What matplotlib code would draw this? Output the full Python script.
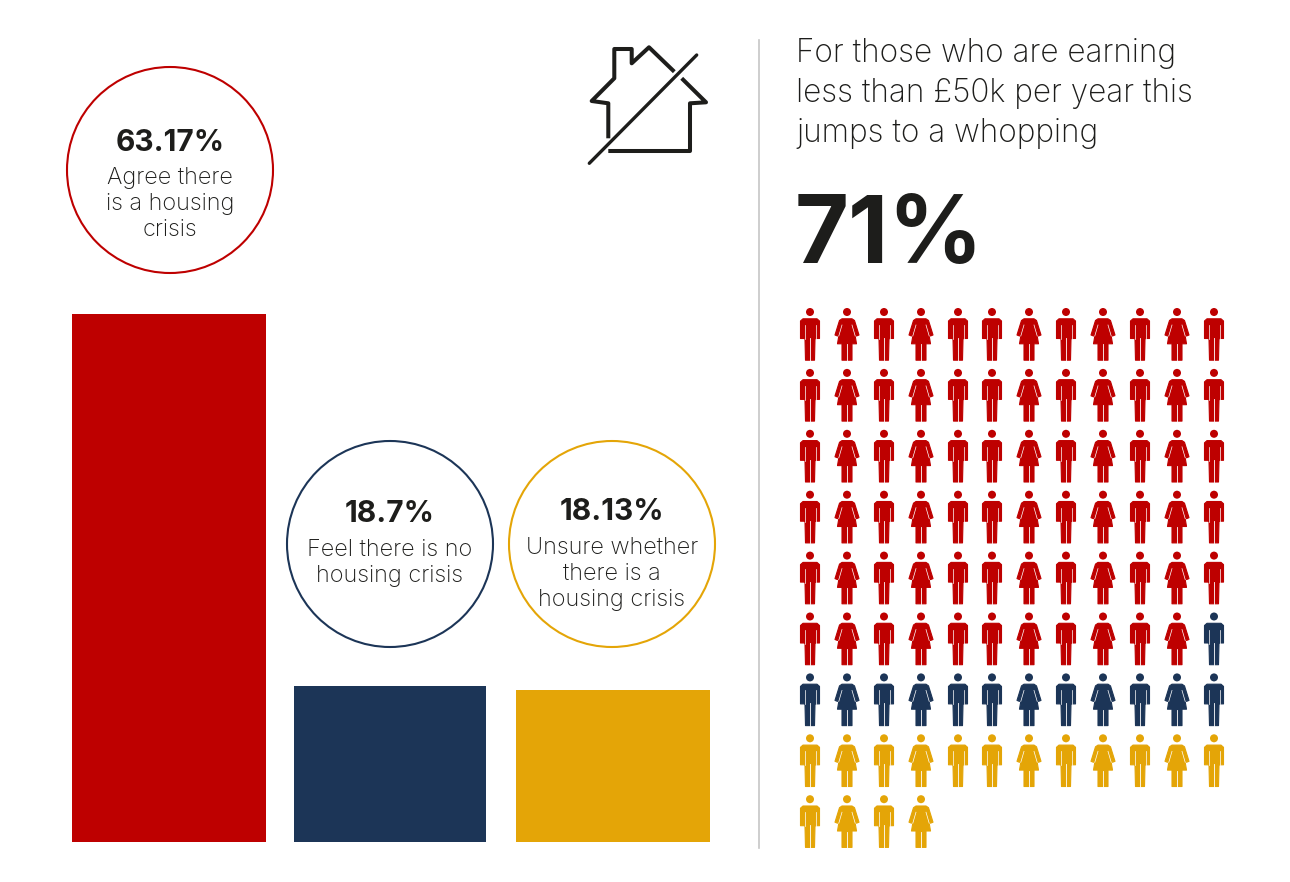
import numpy as np
import matplotlib
matplotlib.use('Agg')
import matplotlib.pyplot as plt
from matplotlib.patches import Circle, Polygon

plt.rcParams['font.family'] = ['Inter', 'DejaVu Sans']

W, H = 1290, 882

# chart values
categories = ['Agree there\nis a housing\ncrisis', 'Feel there is no\nhousing crisis',
              'Unsure whether\nthere is a\nhousing crisis']
values = [63.17, 18.7, 18.13]
value_labels = ['63.17%', '18.7%', '18.13%']
colors = ['#BE0000', '#1C3557', '#E4A507']

people_counts = [71, 13, 16]
per_row = 12
# man / woman order along a row
row_pattern = ['m', 'w', 'm', 'w', 'm', 'm', 'w', 'm', 'w', 'm', 'w', 'm']

headline = 'For those who are earning\nless than £50k per year this\njumps to a whopping'
big_number = '71%'

TEXT = '#1D1D1B'

fig = plt.figure(figsize=(W / 100, H / 100), dpi=100, facecolor='white')

# background axes in pixel coords, y downwards
ax = fig.add_axes([0, 0, 1, 1])
ax.set_xlim(0, W)
ax.set_ylim(H, 0)
ax.axis('off')

# bars, x axis runs in pixels so the gaps stay as drawn
ax_b = fig.add_axes([0, (H - 842) / H, 1, (842 - 314) / H])
ax_b.bar([169, 390, 613], values, width=[194, 192, 194], color=colors)
ax_b.set_xlim(0, W)
ax_b.set_ylim(0, max(values))
ax_b.axis('off')

# circles with labels
centres = [(170, 170), (390, 544), (612, 544)]
value_base = [151, 522, 520]
label_base = [184, 556, 554]
for i, (cx, cy) in enumerate(centres):
    ax.add_patch(Circle((cx, cy), 103, fill=False, ec=colors[i], lw=1.5))
    ax.text(cx, value_base[i], value_labels[i], ha='center', va='baseline', fontsize=21.5,
            fontweight='bold', color=TEXT)
    for j, line in enumerate(categories[i].split('\n')):
        ax.text(cx, label_base[i] + 26 * j, line, ha='center', va='baseline',
                fontsize=16.9, fontweight='light', color=TEXT)

# divider
ax.plot([759, 759], [40, 848], color='#C6C6C6', lw=1.2)

# house icon
icon_kw = dict(color=TEXT, lw=2.9, solid_capstyle='butt', solid_joinstyle='round')
ax.plot([674.3, 649, 631.7, 631.7, 614.3, 614.3, 591.7, 608.3, 608.3],
        [71.7, 47.3, 63.3, 49, 49, 78.3, 101, 103.3, 138.3], **icon_kw)
ax.plot([681.7, 706, 690, 690, 608.3],
        [78.3, 102.3, 103.3, 151, 151], **icon_kw)
ax.plot([696.7, 589.3], [55, 163.3], color=TEXT, lw=2.4, solid_capstyle='round')

# headline
for i, line in enumerate(headline.split('\n')):
    ax.text(796, 62 + 40 * i, line, ha='left', va='baseline', fontsize=22.7,
            fontweight='light', color=TEXT)
ax.text(795, 263, big_number, ha='left', va='baseline', fontsize=67,
        fontweight='bold', color=TEXT)


def draw_person(x, y, kind, color):
    # x = centre, y = top of head
    ax.add_patch(Circle((x, y + 4), 4, fc=color, ec='none'))
    if kind == 'm':
        pts = [(-7, 10.8), (7, 10.8), (9.5, 13), (9.5, 30.5), (6, 30.5), (5, 31),
               (4.5, 52.2), (-4.5, 52.2), (-5, 31), (-6, 30.5), (-9.5, 30.5), (-9.5, 13)]
        ax.add_patch(Polygon([(x + a, y + b) for a, b in pts], fc=color, ec=color,
                             lw=0.8, joinstyle='round'))
        ax.plot([x, x], [y + 30, y + 52.7], color='white', lw=0.6)
        ax.plot([x - 5.5, x - 5.5], [y + 17, y + 31], color='white', lw=0.5)
        ax.plot([x + 5.5, x + 5.5], [y + 17, y + 31], color='white', lw=0.5)
    else:
        pts = [(-5, 10.8), (5, 10.8), (7.5, 12.5), (12, 27), (9.5, 28), (7, 21),
               (9.5, 35.8), (5, 35.8), (5, 52.2), (-5, 52.2), (-5, 35.8),
               (-9.5, 35.8), (-7, 21), (-9.5, 28), (-12, 27), (-7.5, 12.5)]
        ax.add_patch(Polygon([(x + a, y + b) for a, b in pts], fc=color, ec=color,
                             lw=0.8, joinstyle='round'))
        ax.plot([x, x], [y + 36.3, y + 52.7], color='white', lw=0.6)
        ax.plot([x - 5, x - 8.2], [y + 17, y + 28], color='white', lw=0.5)
        ax.plot([x + 5, x + 8.2], [y + 17, y + 28], color='white', lw=0.5)


col_x = [810, 847, 884, 921, 958, 992, 1029, 1066, 1103, 1140, 1177, 1214]
person_colors = np.repeat(colors, people_counts)
for n, c in enumerate(person_colors):
    row, col = divmod(n, per_row)
    draw_person(col_x[col], 308 + row * 60.9, row_pattern[col], c)

fig.savefig('out.png', dpi=100)
